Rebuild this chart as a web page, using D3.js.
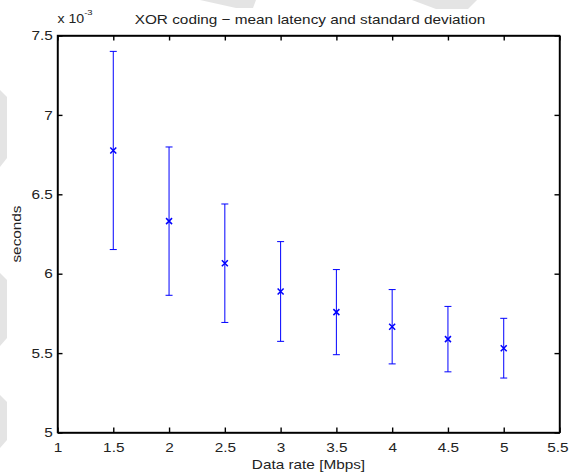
<!DOCTYPE html>
<html>
<head>
<meta charset="utf-8">
<script src="https://cdn.jsdelivr.net/npm/d3@7"></script>
<style>
  body { margin: 0; background: #fff; }
  svg text { font-family: "Liberation Sans", Arial, sans-serif; fill: #222; }
  .axis path, .axis line { stroke: #000; stroke-width: 1.4; }
</style>
</head>
<body>
<div id="chart"></div>
<script>
// data (latency values are in units of 1e-3 seconds)
var rates = [1.5, 2, 2.5, 3, 3.5, 4, 4.5, 5];
var meanLatency = [6.776, 6.331, 6.066, 5.888, 5.758, 5.666, 5.588, 5.531];
var stdLatency = [0.624, 0.467, 0.373, 0.314, 0.268, 0.234, 0.206, 0.188];
var xTicks = [1, 1.5, 2, 2.5, 3, 3.5, 4, 4.5, 5, 5.5];
var yTicks = [5, 5.5, 6, 6.5, 7, 7.5];

var W = 569, H = 475;
var plotLeft = 57.5, plotRight = 559.5, plotTop = 35.5, plotBottom = 432.5;
var CAP = 3.5;     // half width of error bar caps
var MARK = 3;      // half size of the x marker
var FONT = 13;     // base font size
var STRETCH = 1.18; // the source font is wider than Arial

var svg = d3.select('#chart').append('svg')
   .attr('width', W)
   .attr('height', H);

// faint watermark shapes from the source page
var watermark = [
   [[200,0],[256,0],[253,8],[236,8]],
   [[412,0],[477,0],[468,9],[436,9]],
   [[0,90],[7,97],[7,158],[0,167]],
   [[0,273],[7,280],[7,338],[0,346]],
   [[0,395],[7,402],[7,440],[0,448]]
];
svg.append('g').selectAll('polygon')
   .data(watermark)
   .enter().append('polygon')
   .attr('points', function(d){ return d.map(function(p){ return p.join(','); }).join(' '); })
   .attr('fill', '#e4e4e4');

var x = d3.scaleLinear().domain([1, 5.5]).range([plotLeft, plotRight]);
var y = d3.scaleLinear().domain([5, 7.5]).range([plotBottom, plotTop]);

var fmt = function(d){ return String(d); };

function styleLabels(g){
   g.selectAll('text')
      .attr('font-size', FONT)
      .attr('fill', '#222')
      .attr('font-family', '"Liberation Sans", Arial, sans-serif')
      .attr('transform', 'scale(' + STRETCH + ',1)');
}

// axes, ticks pointing inwards on all four sides
var xAxisG = svg.append('g').attr('class', 'axis')
   .attr('transform', 'translate(0,' + plotBottom + ')')
   .call(d3.axisBottom(x).tickValues(xTicks).tickFormat(fmt).tickSizeInner(-5).tickSizeOuter(0).tickPadding(10))
   .call(styleLabels);

// last label sits at the page edge: keep it inside
xAxisG.selectAll('.tick:last-of-type text')
   .attr('text-anchor', 'end')
   .attr('x', (W - 1 - plotRight) / STRETCH);

svg.append('g').attr('class', 'axis')
   .attr('transform', 'translate(0,' + plotTop + ')')
   .call(d3.axisTop(x).tickValues(xTicks).tickFormat('').tickSizeInner(-5).tickSizeOuter(0));

svg.append('g').attr('class', 'axis')
   .attr('transform', 'translate(' + plotLeft + ',0)')
   .call(d3.axisLeft(y).tickValues(yTicks).tickFormat(fmt).tickSizeInner(-5).tickSizeOuter(0).tickPadding(4))
   .call(styleLabels);

svg.append('g').attr('class', 'axis')
   .attr('transform', 'translate(' + plotRight + ',0)')
   .call(d3.axisRight(y).tickValues(yTicks).tickFormat('').tickSizeInner(-5).tickSizeOuter(0));

// box
svg.append('rect')
   .attr('x', plotLeft).attr('y', plotTop)
   .attr('width', plotRight - plotLeft).attr('height', plotBottom - plotTop)
   .attr('fill', 'none').attr('stroke', '#000').attr('stroke-width', 1.4);

// error bars
var bars = svg.append('g').selectAll('g')
   .data(rates)
   .enter().append('g')
   .attr('stroke', '#0000ff')
   .attr('stroke-width', 1)
   .attr('fill', 'none');

bars.append('line')
   .attr('x1', function(d){ return x(d); })
   .attr('x2', function(d){ return x(d); })
   .attr('y1', function(d, i){ return y(meanLatency[i] + stdLatency[i]); })
   .attr('y2', function(d, i){ return y(meanLatency[i] - stdLatency[i]); });

bars.append('line')
   .attr('x1', function(d){ return x(d) - CAP; })
   .attr('x2', function(d){ return x(d) + CAP; })
   .attr('y1', function(d, i){ return y(meanLatency[i] + stdLatency[i]); })
   .attr('y2', function(d, i){ return y(meanLatency[i] + stdLatency[i]); });

bars.append('line')
   .attr('x1', function(d){ return x(d) - CAP; })
   .attr('x2', function(d){ return x(d) + CAP; })
   .attr('y1', function(d, i){ return y(meanLatency[i] - stdLatency[i]); })
   .attr('y2', function(d, i){ return y(meanLatency[i] - stdLatency[i]); });

// x markers at the means
bars.append('path')
   .attr('d', function(d, i){
      var cx = x(d), cy = y(meanLatency[i]);
      return 'M' + (cx - MARK) + ',' + (cy - MARK) + 'L' + (cx + MARK) + ',' + (cy + MARK) +
         'M' + (cx - MARK) + ',' + (cy + MARK) + 'L' + (cx + MARK) + ',' + (cy - MARK);
   })
   .attr('stroke-width', 1.5);

// title and labels
svg.append('text')
   .attr('transform', 'translate(310,24) scale(' + STRETCH + ',1)')
   .attr('text-anchor', 'middle')
   .attr('font-size', FONT)
   .text('XOR coding \u2212 mean latency and standard deviation');

svg.append('text')
   .attr('transform', 'translate(' + ((plotLeft + plotRight) / 2) + ',469) scale(' + STRETCH + ',1)')
   .attr('text-anchor', 'middle')
   .attr('font-size', FONT)
   .text('Data rate [Mbps]');

svg.append('text')
   .attr('transform', 'translate(21,' + ((plotTop + plotBottom) / 2) + ') rotate(-90) scale(' + STRETCH + ',1)')
   .attr('text-anchor', 'middle')
   .attr('font-size', FONT)
   .text('seconds');

var expo = svg.append('text')
   .attr('transform', 'translate(' + plotLeft + ',23) scale(' + STRETCH + ',1)')
   .attr('font-size', 12);
expo.append('tspan').text('x 10');
expo.append('tspan').attr('dy', -8).attr('font-size', 8).text('-3');
</script>
</body>
</html>
